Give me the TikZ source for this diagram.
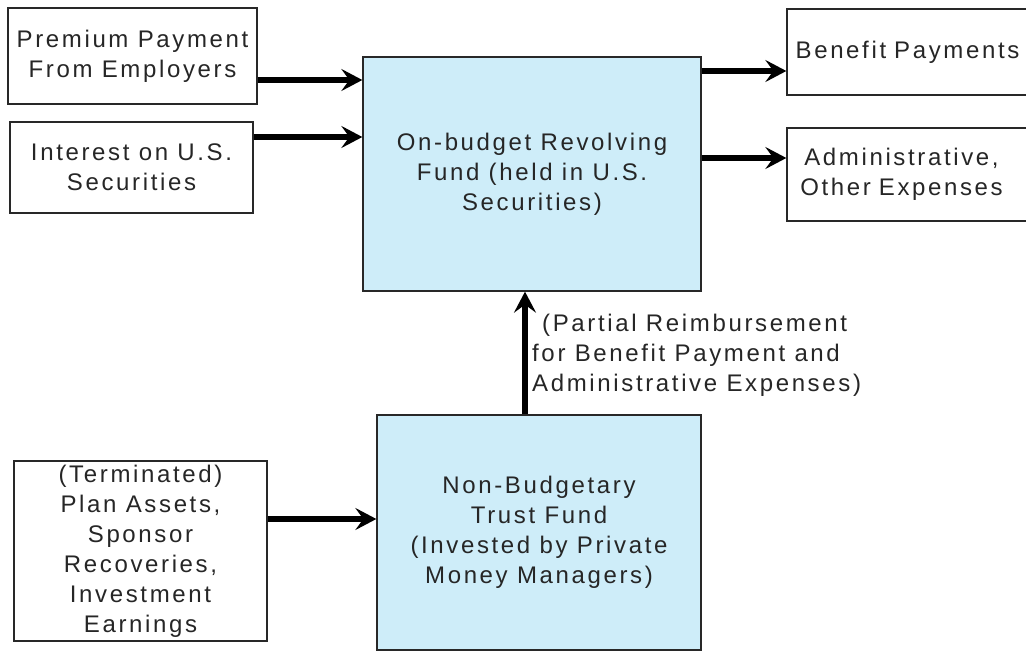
\documentclass[tikz,border=0pt]{standalone}
\usepackage{fontspec}
\setmainfont{Liberation Sans}[LetterSpace=11]
\usetikzlibrary{arrows.meta}
\definecolor{fundblue}{RGB}{206,237,249}
\definecolor{boxline}{RGB}{40,40,40}
\tikzset{
  plain/.style={draw=boxline, line width=1.3pt, fill=white, inner sep=0pt, align=center,
    font=\fontsize{24}{30}\selectfont, text=black!85},
  fund/.style={plain, fill=fundblue},
  flow/.style={line width=5.5pt, black, -{Stealth[length=21pt,width=22pt,inset=8pt]}},
  note/.style={inner sep=0pt, align=left, font=\fontsize{24}{30}\selectfont, text=black!85}
}
\begin{document}
\begin{tikzpicture}[x=1pt,y=-1pt]
\useasboundingbox (0,0) rectangle (1026,652);
\clip (0,0) rectangle (1026,652);
\fill[white] (0,0) rectangle (1026,652);

\node[plain, minimum width=249pt, minimum height=96pt] (prem) at (132.5,56) {Premium Payment\\From Employers};
\node[plain, minimum width=243pt, minimum height=91pt] (int) at (131.5,167.5) {Interest on U.S.\\Securities};
\node[fund, minimum width=338pt, minimum height=234pt] (rev) at (532,174) {On-budget Revolving\\Fund (held in U.S.\\Securities)};
\node[plain, minimum width=243pt, minimum height=86pt, text width=243pt] (ben) at (908.5,52) {\hspace*{-2pt}Benefit Payments};
\node[plain, minimum width=243pt, minimum height=93pt, text width=243pt] (adm) at (908.5,174.5) {\hspace*{-14pt}Administrative,\\\hspace*{-14pt}Other Expenses};
\node[plain, minimum width=253pt, minimum height=180pt] (term) at (140.5,551) {(Terminated)\\Plan Assets,\\Sponsor\\Recoveries,\\Investment\\Earnings};
\node[fund, minimum width=324pt, minimum height=235pt] (trust) at (539,532.5) {Non-Budgetary\\Trust Fund\\(Invested by Private\\Money Managers)};

\draw[flow] ([yshift=-24pt]prem.east) -- ([yshift=-24pt]prem.east -| rev.west);
\draw[flow] ([yshift=30.5pt]int.east) -- ([yshift=30.5pt]int.east -| rev.west);
\draw[flow] ([yshift=-19pt]rev.east |- ben.west) -- ([yshift=-19pt]ben.west);
\draw[flow] ([yshift=16.5pt]rev.east |- adm.west) -- ([yshift=16.5pt]adm.west);
\draw[flow] ([yshift=32pt]term.east) -- ([yshift=32pt]term.east -| trust.west);
\draw[flow] ([xshift=-14pt]trust.north) -- ([xshift=-14pt]trust.north |- rev.south);

\node[note, anchor=west] (lbl) at (532,355) {\hspace*{10pt}(Partial Reimbursement\\for Benefit Payment and\\Administrative Expenses)};
\end{tikzpicture}
\end{document}
